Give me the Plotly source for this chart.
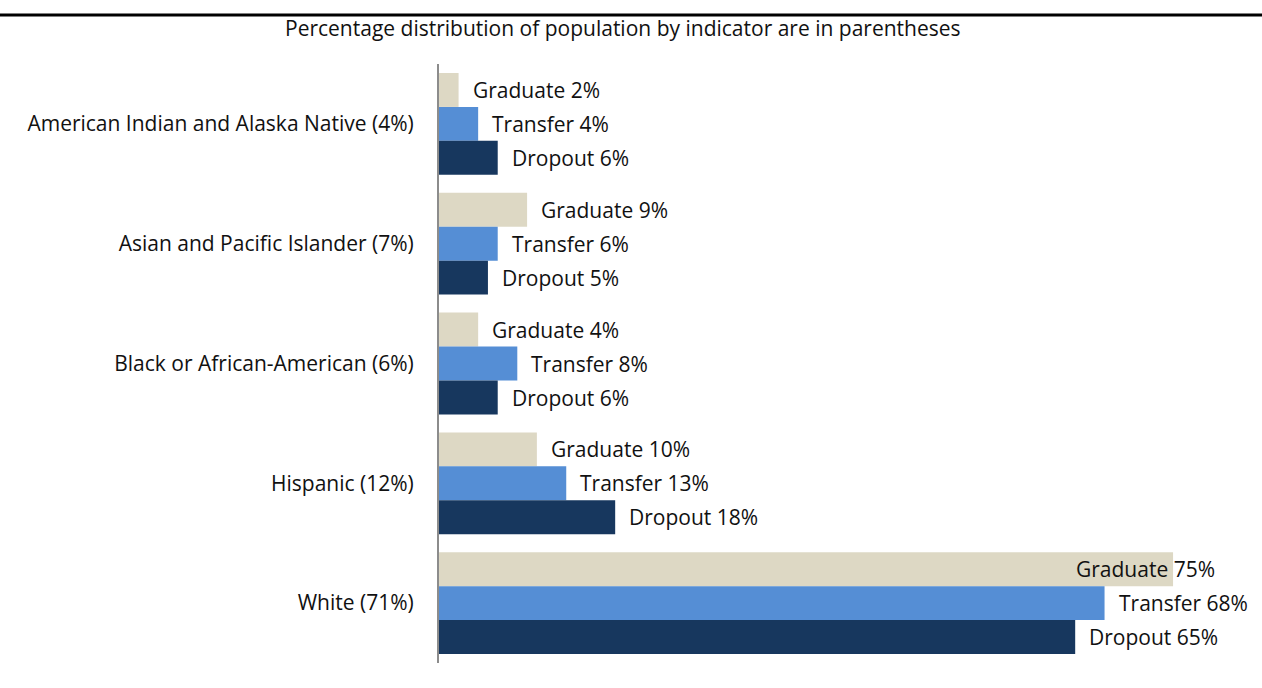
import plotly.graph_objects as go

# Categories (population share in parentheses) and indicator percentages
groups = [
    "American Indian and Alaska Native (4%)",
    "Asian and Pacific Islander (7%)",
    "Black or African-American (6%)",
    "Hispanic (12%)",
    "White (71%)",
]
graduate = [2, 9, 4, 10, 75]
transfer = [4, 6, 8, 13, 68]
dropout = [6, 5, 6, 18, 65]

series = [
    ("Graduate", graduate, "#DDD8C4"),
    ("Transfer", transfer, "#558ED5"),
    ("Dropout", dropout, "#17375E"),
]

FONT = "Open Sans, sans-serif"
FSIZE = 21
X_MAX = 80

# Plot-area pixel geometry
L, R, T, B = 439, 40, 64, 25
W, H = 1262, 688
PW, PH = W - L - R, H - T - B

fig = go.Figure()
for name, vals, color in series:
    fig.add_trace(go.Bar(
        y=groups, x=vals, name=name, orientation="h",
        marker=dict(color=color, line=dict(width=0)),
        offsetgroup=name, showlegend=False, hoverinfo="skip",
    ))

# Value labels beside each bar; labels that would run off the right side
# are pulled back so they end near the chart edge
annotations = []
for i, (name, vals, _) in enumerate(series):
    for j, v in enumerate(vals):
        text = f"{name} {v}%"
        yshift = (1 - i) * 34  # offset of this bar within its group
        if v > 70:
            annotations.append(dict(
                x=1.0, xref="paper", y=groups[j], yref="y", text=text,
                showarrow=False, xanchor="right", yshift=yshift, xshift=-5,
                font=dict(family=FONT, size=FSIZE, color="#111"),
            ))
        else:
            annotations.append(dict(
                x=v, xref="x", y=groups[j], yref="y", text=text,
                showarrow=False, xanchor="left", yshift=yshift, xshift=12,
                font=dict(family=FONT, size=FSIZE, color="#111"),
            ))

annotations.append(dict(
    x=(623 - L) / PW, xref="paper", y=1 + (T - 28) / PH, yref="paper",
    text="Percentage distribution of population by indicator are in parentheses",
    showarrow=False, xanchor="center", yanchor="middle",
    font=dict(family=FONT, size=FSIZE, color="#111"),
))

rule_y = 1 + (T - 15) / PH
fig.update_layout(
    width=W, height=H,
    margin=dict(l=L, r=R, t=T, b=B),
    paper_bgcolor="white", plot_bgcolor="white",
    barmode="group", bargap=0.15, bargroupgap=0,
    font=dict(family=FONT, size=FSIZE, color="#111"),
    annotations=annotations,
    shapes=[dict(type="line", xref="paper", yref="paper",
                 x0=-L / PW, x1=(W - L) / PW, y0=rule_y, y1=rule_y,
                 line=dict(color="black", width=3))],
)
fig.update_xaxes(range=[0, X_MAX], visible=False, showgrid=False, zeroline=False)
fig.update_yaxes(
    categoryorder="array", categoryarray=groups, autorange="reversed",
    showline=True, linecolor="#8C8C8C", linewidth=2, ticks="",
    showgrid=False, ticklabelstandoff=19,
    tickfont=dict(family=FONT, size=FSIZE, color="#111"),
)

fig.write_html("out.html")
